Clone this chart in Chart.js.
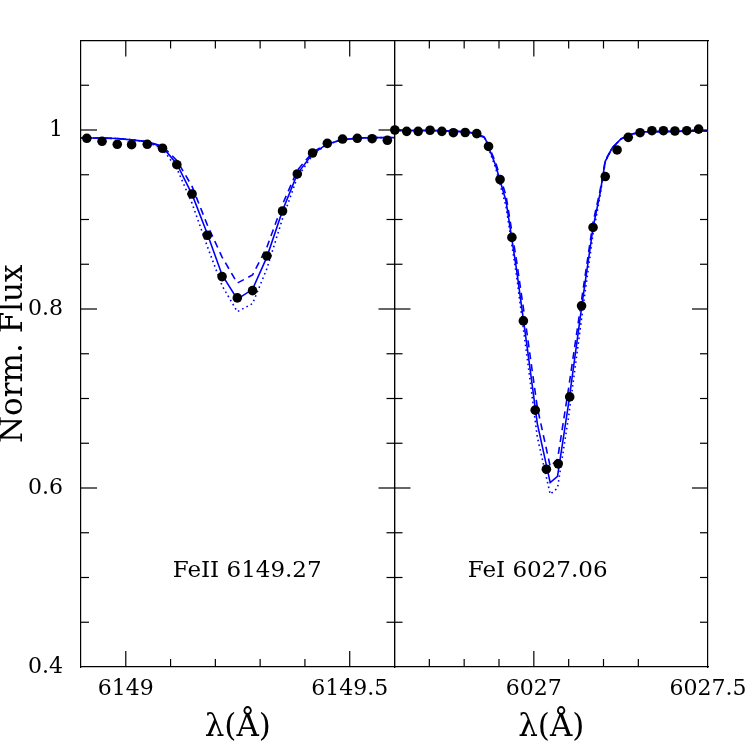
<!DOCTYPE html>
<html>
<head>
<meta charset="utf-8">
<script src="https://cdn.jsdelivr.net/npm/chart.js@4.4.1/dist/chart.umd.min.js"></script>
<style>
  html, body { margin: 0; padding: 0; background: #fff; overflow: hidden; }
  #wrap { position: relative; width: 747px; height: 747px; overflow: hidden; }
  #wrap canvas { position: absolute; left: 0; top: 0; }
</style>
</head>
<body>
<div id="wrap">
  <canvas id="fe2-canvas" width="747" height="747"></canvas>
  <canvas id="fe1-canvas" width="800" height="747"></canvas>
</div>
<script>
/* Fe II 6149.27 : observed points and three model profiles */
const FE2_OBS_X = [6148.913, 6148.947, 6148.981, 6149.013, 6149.048, 6149.082, 6149.114,
  6149.148, 6149.182, 6149.215, 6149.249, 6149.283, 6149.315, 6149.350, 6149.383, 6149.417,
  6149.450, 6149.484, 6149.517, 6149.550, 6149.584];
const FE2_OBS_Y = [0.9907, 0.9874, 0.9840, 0.9836, 0.9840, 0.9796, 0.9612, 0.9285, 0.8824,
  0.8362, 0.8124, 0.8205, 0.8593, 0.9095, 0.9509, 0.9743, 0.9851, 0.9899, 0.9907, 0.9903, 0.9885];
const FE2_MOD_X = [6148.9, 6148.913, 6148.947, 6148.981, 6149.013, 6149.048, 6149.082, 6149.114,
  6149.148, 6149.182, 6149.215, 6149.249, 6149.283, 6149.315, 6149.350, 6149.383, 6149.417,
  6149.450, 6149.484, 6149.517, 6149.550, 6149.584, 6149.6];
const FE2_SOLID = [0.991, 0.991, 0.991, 0.9905, 0.989, 0.987, 0.981, 0.962, 0.928, 0.884, 0.838,
  0.811, 0.822, 0.858, 0.910, 0.951, 0.9735, 0.9845, 0.989, 0.991, 0.9915, 0.9915, 0.9915];
const FE2_DASHED = [0.991, 0.991, 0.991, 0.9905, 0.989, 0.987, 0.982, 0.966, 0.937, 0.894, 0.858,
  0.829, 0.838, 0.869, 0.917, 0.955, 0.975, 0.985, 0.989, 0.991, 0.9915, 0.9915, 0.9915];
const FE2_DOTTED = [0.991, 0.991, 0.991, 0.9905, 0.989, 0.9865, 0.979, 0.957, 0.918, 0.870, 0.826,
  0.797, 0.806, 0.845, 0.901, 0.947, 0.972, 0.984, 0.989, 0.991, 0.9915, 0.9915, 0.9915];

/* Fe I 6027.06 */
const FE1_OBS_X = [6026.601, 6026.635, 6026.668, 6026.702, 6026.736, 6026.769, 6026.803,
  6026.836, 6026.870, 6026.903, 6026.937, 6026.970, 6027.004, 6027.036, 6027.070, 6027.103,
  6027.137, 6027.170, 6027.205, 6027.239, 6027.271, 6027.305, 6027.339, 6027.372, 6027.405,
  6027.439, 6027.473];
const FE1_OBS_Y = [1.000, 0.9985, 0.9985, 0.9997, 0.9985, 0.997, 0.9972, 0.996, 0.9816, 0.9447,
  0.880, 0.7867, 0.687, 0.621, 0.627, 0.7018, 0.8035, 0.8911, 0.948, 0.9777, 0.9918, 0.997,
  0.9992, 0.9992, 0.9989, 0.9992, 1.001];
const FE1_MOD_X = [6026.6, 6026.65, 6026.7, 6026.75, 6026.8, 6026.83, 6026.86, 6026.89, 6026.92,
  6026.95, 6026.98, 6027.01, 6027.047, 6027.068, 6027.10, 6027.14, 6027.17, 6027.19, 6027.205,
  6027.225, 6027.25, 6027.28, 6027.32, 6027.4, 6027.5];
const FE1_SOLID = [0.9995, 0.9995, 0.9995, 0.999, 0.998, 0.9965, 0.991, 0.961, 0.921, 0.845,
  0.760, 0.672, 0.606, 0.613, 0.695, 0.810, 0.891, 0.929, 0.965, 0.980, 0.990, 0.9955, 0.998,
  0.9985, 0.999];
const FE1_DASHED = [0.9995, 0.9995, 0.9995, 0.999, 0.998, 0.9965, 0.992, 0.964, 0.927, 0.855,
  0.774, 0.690, 0.624, 0.632, 0.712, 0.818, 0.897, 0.932, 0.966, 0.980, 0.990, 0.9955, 0.998,
  0.9985, 0.999];
const FE1_DOTTED = [0.9995, 0.9995, 0.9995, 0.999, 0.998, 0.9965, 0.990, 0.958, 0.915, 0.838,
  0.748, 0.657, 0.593, 0.600, 0.680, 0.798, 0.884, 0.926, 0.964, 0.980, 0.990, 0.9955, 0.998,
  0.9985, 0.999];

/* axes */
const FE2_RANGE = [6148.9, 6149.6];
const FE1_RANGE = [6026.6, 6027.5];
const FE2_XLABELS = [6149, 6149.5];
const FE1_XLABELS = [6027, 6027.5];
const Y_RANGE = [0.4, 1.1];
const Y_LABELS = [0.4, 0.6, 0.8, 1];
const LINE_NAMES = ["FeII 6149.27", "FeI 6027.06"];

Chart.defaults.font.family = "'DejaVu Serif', serif";
Chart.defaults.color = "#000";

function pts(xs, ys) {
  return xs.map(function (x, i) { return { x: x, y: ys[i] }; });
}

function inList(list, v) {
  return list.some(function (t) { return Math.abs(t - v) < 1e-6; });
}

function fmt(v) {
  return String(Math.round(v * 10) / 10);
}

/* inward tick marks on all four sides, long ones at labelled values */
const innerTicks = {
  id: "innerTicks",
  afterDraw: function (chart) {
    const ctx = chart.ctx, a = chart.chartArea;
    ctx.save();
    ctx.strokeStyle = "#000";
    ctx.lineWidth = 1.2;
    Object.values(chart.scales).forEach(function (s) {
      const horiz = s.isHorizontal();
      const step = horiz ? 0.5 : 0.2;
      s.ticks.forEach(function (t) {
        const p = s.getPixelForValue(t.value);
        const q = t.value / step;
        const len = Math.abs(q - Math.round(q)) < 1e-6 ? 16 : 8;
        ctx.beginPath();
        if (horiz) {
          if (p <= a.left + 1 || p >= a.right - 1) return;
          const y0 = s.position === "top" ? a.top : a.bottom;
          ctx.moveTo(p, y0);
          ctx.lineTo(p, s.position === "top" ? y0 + len : y0 - len);
        } else {
          if (p <= a.top + 1 || p >= a.bottom - 1) return;
          const x0 = s.position === "right" ? a.right : a.left;
          ctx.moveTo(x0, p);
          ctx.lineTo(s.position === "right" ? x0 - len : x0 + len, p);
        }
        ctx.stroke();
      });
    });
    ctx.restore();
  },
};

/* line identification written inside the panel */
const panelLabel = {
  id: "panelLabel",
  afterDraw: function (chart, args, opts) {
    const ctx = chart.ctx;
    ctx.save();
    ctx.fillStyle = "#000";
    ctx.font = "23px 'DejaVu Serif', serif";
    ctx.textAlign = "center";
    ctx.textBaseline = "alphabetic";
    ctx.fillText(opts.text, chart.scales.x.getPixelForValue(opts.x), chart.scales.y.getPixelForValue(opts.y));
    ctx.restore();
  },
};

function makePanel(id, p) {
  const border = { display: true, color: "#000", width: 1.2 };
  const hidden = { display: false, drawTicks: false };
  const xBase = { type: "linear", min: p.range[0], max: p.range[1], grid: hidden, border: border };
  const yBase = { type: "linear", min: Y_RANGE[0], max: Y_RANGE[1], grid: hidden, border: border };

  return new Chart(document.getElementById(id), {
    type: "scatter",
    data: {
      datasets: [
        {
          data: pts(p.obsX, p.obsY),
          backgroundColor: "#000",
          borderWidth: 0,
          pointRadius: 4.8,
          showLine: false,
          clip: false,
        },
        { data: pts(p.modX, p.solid), showLine: true, borderColor: "#0000ff", borderWidth: 1.6, pointRadius: 0 },
        { data: pts(p.modX, p.dashed), showLine: true, borderColor: "#0000ff", borderWidth: 1.6, borderDash: [7, 5], pointRadius: 0 },
        { data: pts(p.modX, p.dotted), showLine: true, borderColor: "#0000ff", borderWidth: 1.6, borderDash: [1.6, 3.2], pointRadius: 0 },
      ],
    },
    options: {
      responsive: false,
      animation: false,
      layout: { padding: p.pad },
      plugins: {
        legend: { display: false },
        tooltip: { enabled: false },
        panelLabel: { text: p.name, x: p.labelX, y: 0.501 },
      },
      scales: {
        x: Object.assign({}, xBase, {
          position: "bottom",
          ticks: {
            stepSize: 0.1, autoSkip: false, maxRotation: 0, padding: 9,
            font: { size: 22 },
            callback: function (v) { return inList(p.xLabels, v) ? fmt(v) : ""; },
          },
          title: { display: true, text: "λ(Å)", font: { size: 31 }, padding: 0 },
          afterFit: function (s) { s.height = 80; },
        }),
        xTop: Object.assign({}, xBase, {
          position: "top",
          ticks: { stepSize: 0.1, display: false },
          afterFit: function (s) { s.height = 0; },
        }),
        y: Object.assign({}, yBase, {
          position: "left",
          ticks: {
            stepSize: 0.05, autoSkip: false, padding: 18, display: p.yLabels,
            font: { size: 22 },
            callback: function (v) { return inList(Y_LABELS, v) ? fmt(v) : ""; },
          },
          title: { display: p.yLabels, text: "Norm. Flux", font: { size: 31, lineHeight: 0.9 }, padding: 0 },
          afterFit: function (s) { s.width = p.yLabels ? 81 : 0; },
        }),
        yRight: Object.assign({}, yBase, {
          position: "right",
          ticks: { stepSize: 0.05, display: false },
          afterFit: function (s) { s.width = 0; },
        }),
      },
    },
    plugins: [innerTicks, panelLabel],
  });
}

function run() {
  makePanel("fe2-canvas", {
    range: FE2_RANGE, xLabels: FE2_XLABELS, name: LINE_NAMES[0], labelX: 6149.271,
    obsX: FE2_OBS_X, obsY: FE2_OBS_Y, modX: FE2_MOD_X,
    solid: FE2_SOLID, dashed: FE2_DASHED, dotted: FE2_DOTTED,
    yLabels: true,
    pad: { left: 0, top: 40.5, right: 352.5, bottom: 0 },
  });
  makePanel("fe1-canvas", {
    range: FE1_RANGE, xLabels: FE1_XLABELS, name: LINE_NAMES[1], labelX: 6027.011,
    obsX: FE1_OBS_X, obsY: FE1_OBS_Y, modX: FE1_MOD_X,
    solid: FE1_SOLID, dashed: FE1_DASHED, dotted: FE1_DOTTED,
    yLabels: false,
    pad: { left: 394.5, top: 40.5, right: 92, bottom: 0 },
  });
}

if (document.readyState === "loading") {
  document.addEventListener("DOMContentLoaded", run);
} else {
  run();
}
</script>
</body>
</html>
